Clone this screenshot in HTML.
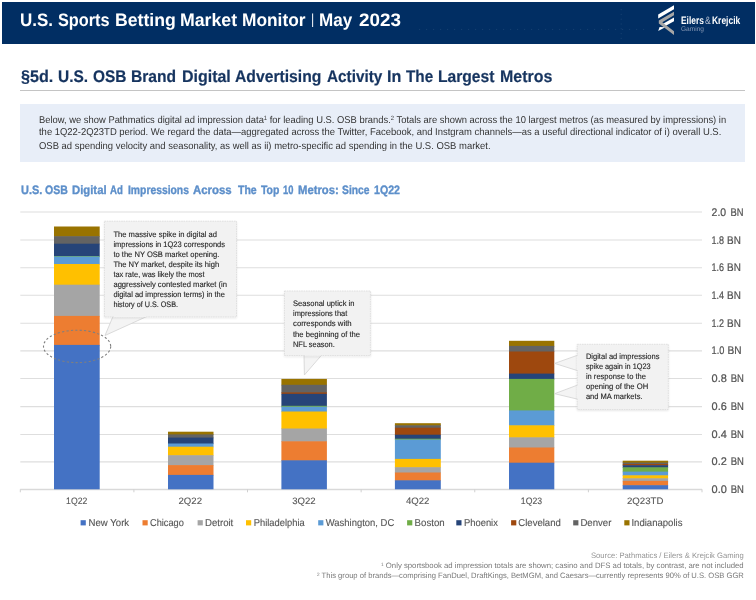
<!DOCTYPE html>
<html lang="en">
<head>
<meta charset="utf-8">
<title>U.S. Sports Betting Market Monitor | May 2023</title>
<style>
html,body{margin:0;padding:0;background:#fff;}
body{width:756px;height:600px;position:relative;overflow:hidden;font-family:"Liberation Sans",Arial,sans-serif;text-rendering:geometricPrecision;}
.band{position:absolute;left:2px;top:2px;width:753px;height:41.5px;background:#012e63;}
.rule{position:absolute;left:20.2px;top:89.8px;width:724.4px;height:1px;background:#c4c4c4;}
.note{position:absolute;left:20.2px;top:104px;width:724.4px;height:58px;background:#e8eef8;margin:0;}
figure{margin:0;}
.t{position:absolute;left:0;margin:0;padding:0;white-space:nowrap;line-height:0;height:0;font-weight:400;display:block;}
.t>span{position:absolute;top:0;white-space:nowrap;transform-origin:0 0;display:block;line-height:0;}
h2.t{-webkit-text-stroke:0.35px currentColor;}
h1.t{-webkit-text-stroke:0.2px currentColor;}
.t sup{font-size:62%;line-height:0;vertical-align:baseline;position:relative;top:-0.42em;}
svg.chart,svg.logo{position:absolute;left:0;top:0;}
</style>
</head>
<body>
<header>
<div class="band"></div>
<svg class="logo" width="756" height="44" viewBox="0 0 756 44">
<line x1="419" y1="29.4" x2="649" y2="29.4" stroke="#fff" stroke-opacity="0.09" stroke-width="1" stroke-dasharray="1.2 5.8"/>
<line x1="621.2" y1="9" x2="621.2" y2="40" stroke="#fff" stroke-opacity="0.09" stroke-width="1" stroke-dasharray="1.2 3.6"/>
<polygon points="674,5.3 674,9.3 658.2,18.4 658.2,14.6" fill="#fff"/>
<polygon points="674,17.6 674,21.2 664.5,26.6 661.8,24.6" fill="#fff"/>
<polygon points="658.2,30.9 659.6,27 665.2,27.2" fill="#fff"/>
<polygon points="674,11.7 674,15.3 662.3,22.3 674,31.2 674,34.9 658.8,23.6 658.8,20.6" fill="#a6a6a6"/>
</svg>
<div id="report-title" class="t" style="top:20px;font-size:18px;color:#fff;font-weight:700;"><span style="left:19.96px;transform:scaleX(0.9423);">U.S.</span> <span style="left:57.8px;transform:scaleX(0.9053);">Sports</span> <span style="left:114.62px;transform:scaleX(0.9801);">Betting</span> <span style="left:179.82px;transform:scaleX(0.9837);">Market</span> <span style="left:242.14px;transform:scaleX(0.9619);">Monitor</span> <span style="left:310.95px;transform:scaleX(0.8500);font-weight:400;color:#f2f4f8;font-size:14.5px;top:0px;">|</span> <span style="left:319.05px;transform:scaleX(0.9469);">May</span> <span style="left:358.9px;transform:scaleX(1.0467);">2023</span></div>
<div id="brand-name" class="t" style="top:21px;font-size:10.8px;color:#fff;font-weight:700;"><span style="left:681.2px;transform:scaleX(0.7753);">Eilers</span><span style="left:704.8px;transform:scaleX(0.8000);font-weight:400;color:#b4bed0;">&amp;</span><span style="left:712px;transform:scaleX(0.7836);">Krejcik</span></div>
<div id="brand-sub" class="t" style="top:30px;font-size:6.7px;color:#8a9ab6;"><span style="left:681.3px;transform:scaleX(0.9833);">Gaming</span></div>
</header>
<main>
<h1 id="section-title" class="t" style="top:77px;font-size:16.8px;color:#16345f;font-weight:700;"><span style="left:20.6px;transform:scaleX(0.9600);">§5d.</span> <span style="left:57.68px;transform:scaleX(0.9233);">U.S.</span> <span style="left:92.8px;transform:scaleX(0.9187);">OSB</span> <span style="left:131.27px;transform:scaleX(0.9294);">Brand</span> <span style="left:181.55px;transform:scaleX(0.9513);">Digital</span> <span style="left:235.3px;transform:scaleX(0.9352);">Advertising</span> <span style="left:326.9px;transform:scaleX(0.9121);">Activity</span> <span style="left:386.54px;transform:scaleX(0.9588);">In</span> <span style="left:406.4px;transform:scaleX(0.9118);">The</span> <span style="left:438.47px;transform:scaleX(0.9312);">Largest</span> <span style="left:500.45px;transform:scaleX(0.9501);">Metros</span></h1>
<div class="rule"></div>
<p class="note">
<span id="note-l1" class="t" style="top:17px;font-size:9.9px;color:#333333;left:-20.2px;"><span style="left:39px;transform:scaleX(0.9505);">Below, we show Pathmatics digital ad impression data<sup>1</sup> for leading U.S. OSB brands.<sup>2</sup> Totals are shown across the 10 largest metros (as measured by impressions) in</span></span>
<span id="note-l2" class="t" style="top:29px;font-size:9.9px;color:#333333;left:-20.2px;"><span style="left:39px;transform:scaleX(0.9566);">the 1Q22-2Q23TD period. We regard the data—aggregated across the Twitter, Facebook, and Instgram channels—as a useful directional indicator of i) overall U.S.</span></span>
<span id="note-l3" class="t" style="top:43px;font-size:9.9px;color:#333333;left:-20.2px;"><span style="left:39px;transform:scaleX(0.9569);">OSB ad spending velocity and seasonality, as well as ii) metro-specific ad spending in the U.S. OSB market.</span></span>
</p>
<figure>
<h2 id="chart-title" class="t" style="top:190px;font-size:12.2px;color:#5d8fca;font-weight:700;"><span style="left:20.8px;transform:scaleX(0.8964);">U.S.</span> <span style="left:45.3px;transform:scaleX(0.8644);">OSB</span> <span style="left:72.2px;transform:scaleX(0.9280);">Digital</span> <span style="left:109.7px;transform:scaleX(0.7911);">Ad</span> <span style="left:127.8px;transform:scaleX(0.8484);">Impressions</span> <span style="left:193px;transform:scaleX(0.9363);">Across</span> <span style="left:237.5px;transform:scaleX(0.8634);">The</span> <span style="left:260.6px;transform:scaleX(0.8578);">Top</span> <span style="left:282.5px;transform:scaleX(0.7693);">10</span> <span style="left:297.8px;transform:scaleX(0.9242);">Metros:</span> <span style="left:341.7px;transform:scaleX(0.8461);">Since</span> <span style="left:374.4px;transform:scaleX(0.8723);">1Q22</span></h2>
<svg class="chart" width="756" height="600" viewBox="0 0 756 600" font-family='"Liberation Sans", Arial, sans-serif' text-rendering="geometricPrecision">
<defs><filter id="sh" x="-10%" y="-10%" width="120%" height="130%"><feGaussianBlur in="SourceAlpha" stdDeviation="1.2"/><feOffset dx="0" dy="1"/><feComponentTransfer><feFuncA type="linear" slope="0.11"/></feComponentTransfer><feMerge><feMergeNode/><feMergeNode in="SourceGraphic"/></feMerge></filter></defs>
<g stroke="#dedede" stroke-width="1.1" fill="none">
<line x1="20.3" y1="212" x2="702" y2="212"/>
<line x1="20.3" y1="240" x2="702" y2="240"/>
<line x1="20.3" y1="267.7" x2="702" y2="267.7"/>
<line x1="20.3" y1="295.3" x2="702" y2="295.3"/>
<line x1="20.3" y1="323.3" x2="702" y2="323.3"/>
<line x1="20.3" y1="350.9" x2="702" y2="350.9"/>
<line x1="20.3" y1="378.5" x2="702" y2="378.5"/>
<line x1="20.3" y1="406.6" x2="702" y2="406.6"/>
<line x1="20.3" y1="434.5" x2="702" y2="434.5"/>
<line x1="20.3" y1="461.9" x2="702" y2="461.9"/>
</g>
<line x1="20.3" y1="489.55" x2="702" y2="489.55" stroke="#d9d9d9" stroke-width="1.5"/>
<g stroke="#d0d0d0" stroke-width="1">
<line x1="20.3" y1="489.3" x2="20.3" y2="492.3"/>
<line x1="133.92" y1="489.3" x2="133.92" y2="492.3"/>
<line x1="247.53" y1="489.3" x2="247.53" y2="492.3"/>
<line x1="361.15" y1="489.3" x2="361.15" y2="492.3"/>
<line x1="474.77" y1="489.3" x2="474.77" y2="492.3"/>
<line x1="588.38" y1="489.3" x2="588.38" y2="492.3"/>
<line x1="702" y1="489.3" x2="702" y2="492.3"/>
</g>
<g>
<rect x="54" y="226.5" width="45.7" height="10.3" fill="#997300"/>
<rect x="54" y="236.2" width="45.7" height="8.1" fill="#636363"/>
<rect x="54" y="243.7" width="45.7" height="12.9" fill="#264478"/>
<rect x="54" y="256" width="45.7" height="1.1" fill="#70ad47"/>
<rect x="54" y="256.5" width="45.7" height="8.1" fill="#5b9bd5"/>
<rect x="54" y="264" width="45.7" height="21.3" fill="#ffc000"/>
<rect x="54" y="284.7" width="45.7" height="31.8" fill="#a5a5a5"/>
<rect x="54" y="315.9" width="45.7" height="29.6" fill="#ed7d31"/>
<rect x="54" y="344.9" width="45.7" height="144.4" fill="#4472c4"/>
<rect x="168" y="431.7" width="45.5" height="3.3" fill="#997300"/>
<rect x="168" y="434.4" width="45.5" height="3.8" fill="#636363"/>
<rect x="168" y="437.6" width="45.5" height="6.5" fill="#264478"/>
<rect x="168" y="443.5" width="45.5" height="3.8" fill="#5b9bd5"/>
<rect x="168" y="446.7" width="45.5" height="9.1" fill="#ffc000"/>
<rect x="168" y="455.2" width="45.5" height="10.5" fill="#a5a5a5"/>
<rect x="168" y="465.1" width="45.5" height="10.4" fill="#ed7d31"/>
<rect x="168" y="474.9" width="45.5" height="14.4" fill="#4472c4"/>
<rect x="281.4" y="378.9" width="45.5" height="6.5" fill="#997300"/>
<rect x="281.4" y="384.8" width="45.5" height="8.2" fill="#636363"/>
<rect x="281.4" y="392.4" width="45.5" height="2" fill="#9e480e"/>
<rect x="281.4" y="393.8" width="45.5" height="12.6" fill="#264478"/>
<rect x="281.4" y="405.8" width="45.5" height="1.5" fill="#70ad47"/>
<rect x="281.4" y="406.7" width="45.5" height="5.4" fill="#5b9bd5"/>
<rect x="281.4" y="411.5" width="45.5" height="17.6" fill="#ffc000"/>
<rect x="281.4" y="428.5" width="45.5" height="13.4" fill="#a5a5a5"/>
<rect x="281.4" y="441.3" width="45.5" height="19.6" fill="#ed7d31"/>
<rect x="281.4" y="460.3" width="45.5" height="29" fill="#4472c4"/>
<rect x="394.9" y="423.2" width="45.9" height="2.7" fill="#997300"/>
<rect x="394.9" y="425.3" width="45.9" height="3" fill="#636363"/>
<rect x="394.9" y="427.7" width="45.9" height="7.6" fill="#9e480e"/>
<rect x="394.9" y="434.7" width="45.9" height="4.6" fill="#264478"/>
<rect x="394.9" y="438.7" width="45.9" height="1.4" fill="#70ad47"/>
<rect x="394.9" y="439.5" width="45.9" height="20" fill="#5b9bd5"/>
<rect x="394.9" y="458.9" width="45.9" height="8.9" fill="#ffc000"/>
<rect x="394.9" y="467.2" width="45.9" height="5.9" fill="#a5a5a5"/>
<rect x="394.9" y="472.5" width="45.9" height="8.4" fill="#ed7d31"/>
<rect x="394.9" y="480.3" width="45.9" height="9" fill="#4472c4"/>
<rect x="509" y="340.8" width="45.3" height="5.7" fill="#997300"/>
<rect x="509" y="345.9" width="45.3" height="6.2" fill="#636363"/>
<rect x="509" y="351.5" width="45.3" height="22.7" fill="#9e480e"/>
<rect x="509" y="373.6" width="45.3" height="5.9" fill="#264478"/>
<rect x="509" y="378.9" width="45.3" height="32.1" fill="#70ad47"/>
<rect x="509" y="410.4" width="45.3" height="15.5" fill="#5b9bd5"/>
<rect x="509" y="425.3" width="45.3" height="12.6" fill="#ffc000"/>
<rect x="509" y="437.3" width="45.3" height="10.8" fill="#a5a5a5"/>
<rect x="509" y="447.5" width="45.3" height="15.8" fill="#ed7d31"/>
<rect x="509" y="462.7" width="45.3" height="26.6" fill="#4472c4"/>
<rect x="622.7" y="460.7" width="45.4" height="2.5" fill="#997300"/>
<rect x="622.7" y="462.6" width="45.4" height="2" fill="#636363"/>
<rect x="622.7" y="464" width="45.4" height="1.8" fill="#9e480e"/>
<rect x="622.7" y="465.2" width="45.4" height="2.7" fill="#264478"/>
<rect x="622.7" y="467.3" width="45.4" height="4.9" fill="#70ad47"/>
<rect x="622.7" y="471.6" width="45.4" height="4.3" fill="#5b9bd5"/>
<rect x="622.7" y="475.3" width="45.4" height="3.6" fill="#ffc000"/>
<rect x="622.7" y="478.3" width="45.4" height="3.2" fill="#a5a5a5"/>
<rect x="622.7" y="480.9" width="45.4" height="4.9" fill="#ed7d31"/>
<rect x="622.7" y="485.2" width="45.4" height="4.1" fill="#4472c4"/>
</g>
<ellipse cx="77.1" cy="346.4" rx="33.6" ry="16.2" fill="none" stroke="#7f7f7f" stroke-width="1.1" stroke-dasharray="2.2 2.2"/>
<polygon points="113,316.4 147,316.4 105,335.5" fill="#f4f4f4" stroke="#d2d2d2" stroke-width="0.8"/>
<g filter="url(#sh)">
<rect x="104.4" y="221.2" width="132.1" height="95.7" fill="#f2f2f2" stroke="#dadada" stroke-width="0.8" stroke-dasharray="1.6 0.8"/>
<line x1="113.75" y1="316.4" x2="146.25" y2="316.4" stroke="#f3f3f3" stroke-width="1.3"/>
</g>
<polygon points="304,355.1 321.6,355.1 304.4,375" fill="#f4f4f4" stroke="#d2d2d2" stroke-width="0.8"/>
<g filter="url(#sh)">
<rect x="284.4" y="291" width="86" height="64.6" fill="#f2f2f2" stroke="#dadada" stroke-width="0.8" stroke-dasharray="1.6 0.8"/>
<line x1="304.75" y1="355.1" x2="320.85" y2="355.1" stroke="#f3f3f3" stroke-width="1.3"/>
</g>
<polygon points="577.7,355.2 577.7,370.7 554.6,363.4" fill="#f4f4f4" stroke="#d2d2d2" stroke-width="0.8"/>
<polygon points="577.7,385 577.7,399.2 554.6,393.7" fill="#f4f4f4" stroke="#d2d2d2" stroke-width="0.8"/>
<g filter="url(#sh)">
<rect x="577.2" y="344.3" width="91.1" height="65.2" fill="#f2f2f2" stroke="#dadada" stroke-width="0.8" stroke-dasharray="1.6 0.8"/>
<line x1="577.7" y1="355.95" x2="577.7" y2="369.95" stroke="#f3f3f3" stroke-width="1.3"/>
<line x1="577.7" y1="385.75" x2="577.7" y2="398.45" stroke="#f3f3f3" stroke-width="1.3"/>
</g>
<rect x="80.6" y="520.2" width="5.2" height="5.2" fill="#4472c4"/>
<rect x="142.5" y="520.2" width="5.2" height="5.2" fill="#ed7d31"/>
<rect x="197.6" y="520.2" width="5.2" height="5.2" fill="#a5a5a5"/>
<rect x="246" y="520.2" width="5.2" height="5.2" fill="#ffc000"/>
<rect x="318.2" y="520.2" width="5.2" height="5.2" fill="#5b9bd5"/>
<rect x="407.1" y="520.2" width="5.2" height="5.2" fill="#70ad47"/>
<rect x="456.3" y="520.2" width="5.2" height="5.2" fill="#264478"/>
<rect x="511.1" y="520.2" width="5.2" height="5.2" fill="#9e480e"/>
<rect x="573.2" y="520.2" width="5.2" height="5.2" fill="#636363"/>
<rect x="624.3" y="520.2" width="5.2" height="5.2" fill="#997300"/>
<text y="216" font-size="11" fill="#525252" stroke="#525252" stroke-width="0.22"><tspan x="711.6" textLength="14.51" lengthAdjust="spacingAndGlyphs">2.0</tspan> <tspan x="730.5" textLength="12.95" lengthAdjust="spacingAndGlyphs">BN</tspan></text>
<text y="244" font-size="11" fill="#525252" stroke="#525252" stroke-width="0.22"><tspan x="711.6" textLength="12.5" lengthAdjust="spacingAndGlyphs">1.8</tspan> <tspan x="727.1" textLength="13.75" lengthAdjust="spacingAndGlyphs">BN</tspan></text>
<text y="271" font-size="11" fill="#525252" stroke="#525252" stroke-width="0.22"><tspan x="711.6" textLength="12.5" lengthAdjust="spacingAndGlyphs">1.6</tspan> <tspan x="727.1" textLength="13.75" lengthAdjust="spacingAndGlyphs">BN</tspan></text>
<text y="299" font-size="11" fill="#525252" stroke="#525252" stroke-width="0.22"><tspan x="711.6" textLength="12.5" lengthAdjust="spacingAndGlyphs">1.4</tspan> <tspan x="727.1" textLength="13.75" lengthAdjust="spacingAndGlyphs">BN</tspan></text>
<text y="327" font-size="11" fill="#525252" stroke="#525252" stroke-width="0.22"><tspan x="711.6" textLength="12.5" lengthAdjust="spacingAndGlyphs">1.2</tspan> <tspan x="727.1" textLength="13.75" lengthAdjust="spacingAndGlyphs">BN</tspan></text>
<text y="354" font-size="11" fill="#525252" stroke="#525252" stroke-width="0.22"><tspan x="711.6" textLength="12.8" lengthAdjust="spacingAndGlyphs">1.0</tspan> <tspan x="727.4" textLength="14.05" lengthAdjust="spacingAndGlyphs">BN</tspan></text>
<text y="382" font-size="11" fill="#525252" stroke="#525252" stroke-width="0.22"><tspan x="711.6" textLength="15.22" lengthAdjust="spacingAndGlyphs">0.8</tspan> <tspan x="730.7" textLength="13.15" lengthAdjust="spacingAndGlyphs">BN</tspan></text>
<text y="410" font-size="11" fill="#525252" stroke="#525252" stroke-width="0.22"><tspan x="711.6" textLength="15.22" lengthAdjust="spacingAndGlyphs">0.6</tspan> <tspan x="730.7" textLength="13.15" lengthAdjust="spacingAndGlyphs">BN</tspan></text>
<text y="438" font-size="11" fill="#525252" stroke="#525252" stroke-width="0.22"><tspan x="711.6" textLength="15.22" lengthAdjust="spacingAndGlyphs">0.4</tspan> <tspan x="730.7" textLength="13.15" lengthAdjust="spacingAndGlyphs">BN</tspan></text>
<text y="465" font-size="11" fill="#525252" stroke="#525252" stroke-width="0.22"><tspan x="711.6" textLength="15.22" lengthAdjust="spacingAndGlyphs">0.2</tspan> <tspan x="730.7" textLength="13.15" lengthAdjust="spacingAndGlyphs">BN</tspan></text>
<text y="493" font-size="11" fill="#525252" stroke="#525252" stroke-width="0.22"><tspan x="711.6" textLength="15.22" lengthAdjust="spacingAndGlyphs">0.0</tspan> <tspan x="730.7" textLength="13.15" lengthAdjust="spacingAndGlyphs">BN</tspan></text>
<text x="66.1" y="504" font-size="9.3" fill="#595959" stroke="#595959" stroke-width="0.12" textLength="21.26" lengthAdjust="spacingAndGlyphs">1Q22</text>
<text x="178.5" y="504" font-size="9.3" fill="#595959" stroke="#595959" stroke-width="0.12" textLength="23.48" lengthAdjust="spacingAndGlyphs">2Q22</text>
<text x="292.2" y="504" font-size="9.3" fill="#595959" stroke="#595959" stroke-width="0.12" textLength="23.48" lengthAdjust="spacingAndGlyphs">3Q22</text>
<text x="405.9" y="504" font-size="9.3" fill="#595959" stroke="#595959" stroke-width="0.12" textLength="23.48" lengthAdjust="spacingAndGlyphs">4Q22</text>
<text x="520.8" y="504" font-size="9.3" fill="#595959" stroke="#595959" stroke-width="0.12" textLength="21.26" lengthAdjust="spacingAndGlyphs">1Q23</text>
<text x="626.9" y="504" font-size="9.3" fill="#595959" stroke="#595959" stroke-width="0.12" textLength="36.5" lengthAdjust="spacingAndGlyphs">2Q23TD</text>
<text x="88.6" y="526" font-size="10" fill="#555555" stroke="#555555" stroke-width="0.12" textLength="40.54" lengthAdjust="spacingAndGlyphs">New York</text>
<text x="150" y="526" font-size="10" fill="#555555" stroke="#555555" stroke-width="0.12" textLength="33.89" lengthAdjust="spacingAndGlyphs">Chicago</text>
<text x="205" y="526" font-size="10" fill="#555555" stroke="#555555" stroke-width="0.12" textLength="28.29" lengthAdjust="spacingAndGlyphs">Detroit</text>
<text x="253.8" y="526" font-size="10" fill="#555555" stroke="#555555" stroke-width="0.12" textLength="50.89" lengthAdjust="spacingAndGlyphs">Philadelphia</text>
<text x="325.8" y="526" font-size="10" fill="#555555" stroke="#555555" stroke-width="0.12" textLength="68.41" lengthAdjust="spacingAndGlyphs">Washington, DC</text>
<text x="414.6" y="526" font-size="10" fill="#555555" stroke="#555555" stroke-width="0.12" textLength="30.14" lengthAdjust="spacingAndGlyphs">Boston</text>
<text x="464" y="526" font-size="10" fill="#555555" stroke="#555555" stroke-width="0.12" textLength="33.9" lengthAdjust="spacingAndGlyphs">Phoenix</text>
<text x="518.3" y="526" font-size="10" fill="#555555" stroke="#555555" stroke-width="0.12" textLength="42.54" lengthAdjust="spacingAndGlyphs">Cleveland</text>
<text x="580.4" y="526" font-size="10" fill="#555555" stroke="#555555" stroke-width="0.12" textLength="31.05" lengthAdjust="spacingAndGlyphs">Denver</text>
<text x="631.4" y="526" font-size="10" fill="#555555" stroke="#555555" stroke-width="0.12" textLength="51.1" lengthAdjust="spacingAndGlyphs">Indianapolis</text>
<text x="113.4" y="237" font-size="8" fill="#242424" stroke="#242424" stroke-width="0.12" textLength="103.63" lengthAdjust="spacingAndGlyphs">The massive spike in digital ad</text>
<text x="113.4" y="247" font-size="8" fill="#242424" stroke="#242424" stroke-width="0.12" textLength="111.6" lengthAdjust="spacingAndGlyphs">impressions in 1Q23 corresponds</text>
<text x="113.4" y="257" font-size="8" fill="#242424" stroke="#242424" stroke-width="0.12" textLength="105.91" lengthAdjust="spacingAndGlyphs">to the NY OSB market opening.</text>
<text x="113.4" y="267" font-size="8" fill="#242424" stroke="#242424" stroke-width="0.12" textLength="105.73" lengthAdjust="spacingAndGlyphs">The NY market, despite its high</text>
<text x="113.4" y="277" font-size="8" fill="#242424" stroke="#242424" stroke-width="0.12" textLength="91.18" lengthAdjust="spacingAndGlyphs">tax rate, was likely the most</text>
<text x="113.4" y="287" font-size="8" fill="#242424" stroke="#242424" stroke-width="0.12" textLength="113.53" lengthAdjust="spacingAndGlyphs">aggressively contested market (in</text>
<text x="113.4" y="297" font-size="8" fill="#242424" stroke="#242424" stroke-width="0.12" textLength="111.49" lengthAdjust="spacingAndGlyphs">digital ad impression terms) in the</text>
<text x="113.4" y="307" font-size="8" fill="#242424" stroke="#242424" stroke-width="0.12" textLength="64.6" lengthAdjust="spacingAndGlyphs">history of U.S. OSB.</text>
<text x="293" y="306" font-size="8" fill="#242424" stroke="#242424" stroke-width="0.12" textLength="61.42" lengthAdjust="spacingAndGlyphs">Seasonal uptick in</text>
<text x="293" y="316" font-size="8" fill="#242424" stroke="#242424" stroke-width="0.12" textLength="54.28" lengthAdjust="spacingAndGlyphs">impressions that</text>
<text x="293" y="326" font-size="8" fill="#242424" stroke="#242424" stroke-width="0.12" textLength="58.64" lengthAdjust="spacingAndGlyphs">corresponds with</text>
<text x="293" y="337" font-size="8" fill="#242424" stroke="#242424" stroke-width="0.12" textLength="67.07" lengthAdjust="spacingAndGlyphs">the beginning of the</text>
<text x="293" y="347" font-size="8" fill="#242424" stroke="#242424" stroke-width="0.12" textLength="41.81" lengthAdjust="spacingAndGlyphs">NFL season.</text>
<text x="585.9" y="359" font-size="8" fill="#242424" stroke="#242424" stroke-width="0.12" textLength="73.6" lengthAdjust="spacingAndGlyphs">Digital ad impressions</text>
<text x="585.9" y="369" font-size="8" fill="#242424" stroke="#242424" stroke-width="0.12" textLength="64.7" lengthAdjust="spacingAndGlyphs">spike again in 1Q23</text>
<text x="585.9" y="379" font-size="8" fill="#242424" stroke="#242424" stroke-width="0.12" textLength="60.08" lengthAdjust="spacingAndGlyphs">in response to the</text>
<text x="585.9" y="389" font-size="8" fill="#242424" stroke="#242424" stroke-width="0.12" textLength="62.39" lengthAdjust="spacingAndGlyphs">opening of the OH</text>
<text x="585.9" y="399" font-size="8" fill="#242424" stroke="#242424" stroke-width="0.12" textLength="56.61" lengthAdjust="spacingAndGlyphs">and MA markets.</text>
</svg>
</figure>
</main>
<footer>
<div id="src-0" class="t" style="top:556px;font-size:7.8px;color:#949494;"><span style="left:590.8px;transform:scaleX(0.9795);">Source: Pathmatics / Eilers &amp; Krejcik Gaming</span></div>
<div id="src-1" class="t" style="top:566px;font-size:7.8px;color:#787878;"><span style="left:380.9px;transform:scaleX(0.9948);"><sup>1</sup> Only sportsbook ad impression totals are shown; casino and DFS ad totals, by contrast, are not included</span></div>
<div id="src-2" class="t" style="top:576px;font-size:7.8px;color:#787878;"><span style="left:316.7px;transform:scaleX(0.9774);"><sup>2</sup> This group of brands—comprising FanDuel, DraftKings, BetMGM, and Caesars—currently represents 90% of U.S. OSB GGR</span></div>
</footer>
</body>
</html>
